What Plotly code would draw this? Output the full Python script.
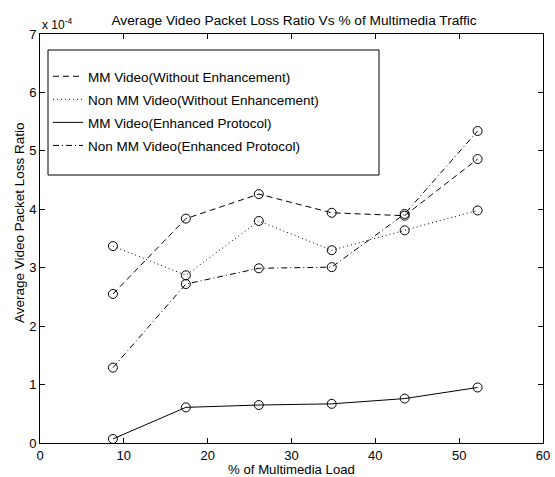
import plotly.graph_objects as go

# % of multimedia load
load_pct = [8.7, 17.4, 26.1, 34.8, 43.5, 52.2]

# Average video packet loss ratio (units of 1e-4)
mm_without = [2.55, 3.84, 4.26, 3.94, 3.89, 4.86]
nonmm_without = [3.37, 2.87, 3.80, 3.30, 3.64, 3.98]
mm_enhanced = [0.07, 0.61, 0.65, 0.67, 0.76, 0.95]
nonmm_enhanced = [1.29, 2.72, 2.99, 3.01, 3.92, 5.34]

series_names = [
    "MM Video(Without Enhancement)",
    "Non MM Video(Without Enhancement)",
    "MM Video(Enhanced Protocol)",
    "Non MM Video(Enhanced Protocol)",
]
series_values = [mm_without, nonmm_without, mm_enhanced, nonmm_enhanced]
dashes = ["6px,4px", "1px,3px", "solid", "6px,3px,1px,3px"]

FONT = "Liberation Sans, Arial, Helvetica, sans-serif"

fig = go.Figure()
for i, (name, vals, dash) in enumerate(zip(series_names, series_values, dashes)):
    fig.add_trace(go.Scatter(
        x=load_pct, y=vals, mode="lines", name=name,
        legendgroup=f"g{i}",
        line=dict(color="black", width=1, dash=dash),
    ))
for vals in series_values:
    fig.add_trace(go.Scatter(
        x=load_pct, y=vals, mode="markers", showlegend=False,
        marker=dict(symbol="circle-open", size=9, color="black", line=dict(width=1, color="black")),
    ))

axis_common = dict(
    showline=True, linecolor="black", linewidth=1, mirror="ticks",
    ticks="inside", ticklen=5, tickcolor="black", showgrid=False, zeroline=False,
    automargin=False,
    tickfont=dict(family=FONT, size=13, color="black"),
)

L, R, T, B = 40, 543, 34, 443
PW, PH = R - L, B - T

fig.update_layout(
    width=555, height=477,
    margin=dict(l=L, r=555 - R, t=T, b=477 - B),
    paper_bgcolor="white", plot_bgcolor="white",
    font=dict(family=FONT, size=13, color="black"),
    title=dict(text="Average Video Packet Loss Ratio Vs % of Multimedia Traffic",
               x=(294 / 555), xanchor="center", y=1 - 20 / 477, yanchor="middle",
               font=dict(family=FONT, size=13.7, color="black")),
    xaxis=dict(range=[0, 60], dtick=10, tick0=0,
               title=dict(text="% of Multimedia Load", standoff=4,
                          font=dict(family=FONT, size=13.2, color="black")),
               **axis_common),
    yaxis=dict(range=[0, 7], dtick=1, tick0=0, **axis_common),
    legend=dict(x=(48 - L) / PW, y=(B - 61) / PH, xanchor="left", yanchor="top",
                bgcolor="rgba(0,0,0,0)", borderwidth=0,
                tracegroupgap=2.5,
                font=dict(family=FONT, size=13.5, color="black")),
    showlegend=True,
)

# legend frame
fig.add_shape(type="rect", xref="paper", yref="paper",
              x0=(48 - L) / PW, x1=(379 - L) / PW,
              y0=(B - 175) / PH, y1=(B - 50) / PH,
              line=dict(color="black", width=1), fillcolor="rgba(0,0,0,0)")

# y-axis title
fig.add_annotation(xref="paper", yref="paper", x=(20 - L) / PW, y=(B - 223) / PH,
                   xanchor="center", yanchor="middle", textangle=-90,
                   text="Average Video Packet Loss Ratio", showarrow=False,
                   font=dict(family=FONT, size=13.5, color="black"))

# exponent label
fig.add_annotation(xref="paper", yref="paper", x=0, y=1, xanchor="left", yanchor="bottom",
                   text="x 10<sup>-4</sup>", showarrow=False,
                   font=dict(family=FONT, size=12, color="black"), yshift=0)

fig.write_html("out.html", config={"displayModeBar": False},
               post_script="document.body.style.margin='0px';")
